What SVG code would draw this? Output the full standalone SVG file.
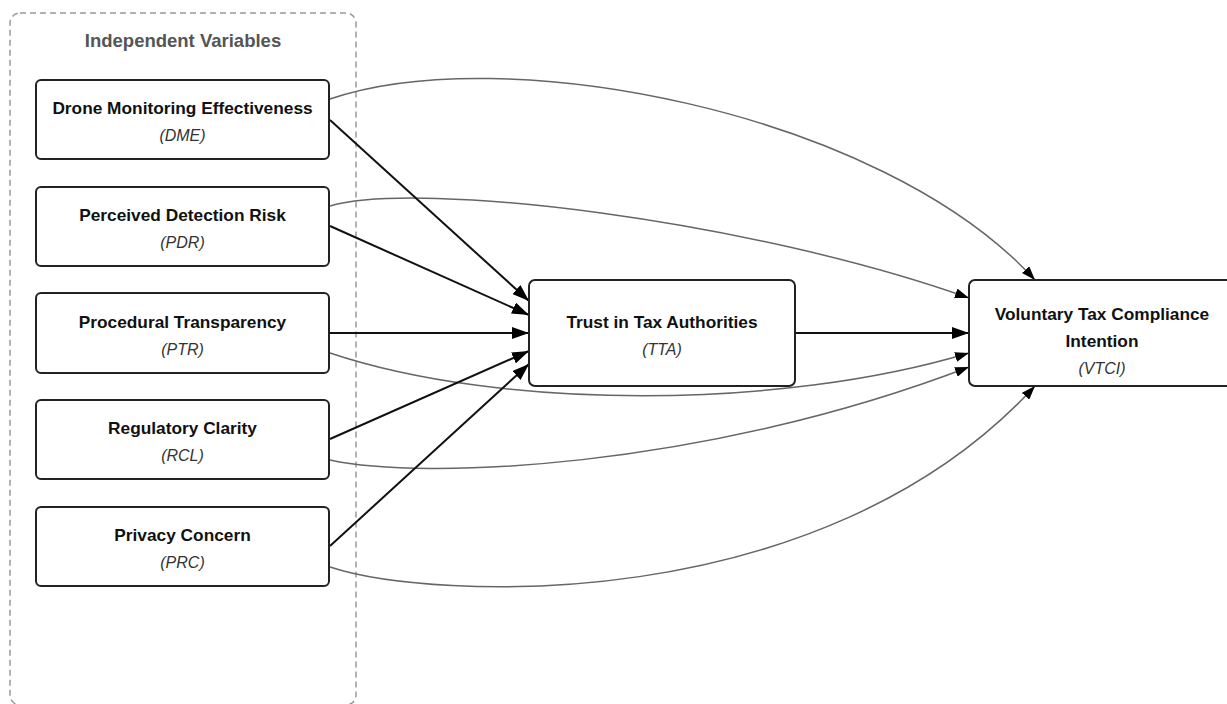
<svg xmlns="http://www.w3.org/2000/svg" width="1227" height="704" viewBox="0 0 1227 704">
<style>
.node rect{fill:#fff;stroke:#222;stroke-width:2}
.t{font-family:"Liberation Sans",Arial,sans-serif;font-size:17.3px;font-weight:bold;fill:#111;text-anchor:middle}
.s{font-family:"Liberation Sans",Arial,sans-serif;font-size:16px;font-style:italic;fill:#333;text-anchor:middle}
.g{font-family:"Liberation Sans",Arial,sans-serif;font-size:18.5px;font-weight:bold;fill:#555;text-anchor:middle}
.thick{fill:none;stroke:#111;stroke-width:2;marker-end:url(#ah)}
.thin{fill:none;stroke:#666;stroke-width:1.5;marker-end:url(#ahs)}
</style>
<defs>
<marker id="ah" viewBox="0 0 17 12" refX="17" refY="6" markerWidth="17" markerHeight="12" orient="auto" markerUnits="userSpaceOnUse"><path d="M0,0 L17,6 L0,12 z" fill="#000"/></marker>
<marker id="ahs" viewBox="0 0 14 10" refX="14" refY="5" markerWidth="14" markerHeight="10" orient="auto" markerUnits="userSpaceOnUse"><path d="M0,0 L14,5 L0,10 z" fill="#000"/></marker>
</defs>
<rect width="1227" height="704" fill="#fff"/>
<g id="group-iv">
<rect x="10" y="13" width="346" height="692" rx="10" fill="none" stroke="#999" stroke-width="1.5" stroke-dasharray="6,4"/>
<text class="g" x="183" y="47">Independent Variables</text>
</g>
<g id="connectors">
<path class="thin" d="M330,99 C500,40 880,110 1035,280"/>
<path class="thin" d="M330,206 C420,180 750,220 969,298"/>
<path class="thin" d="M330,353 C500,410 780,410 969,353"/>
<path class="thin" d="M330,460 C420,480 700,470 969,367"/>
<path class="thin" d="M330,567 C430,600 820,620 1035,386"/>
<path class="thick" d="M330,120 L529,301"/>
<path class="thick" d="M330,226 L529,315"/>
<path class="thick" d="M330,333 L529,333"/>
<path class="thick" d="M330,439 L529,351"/>
<path class="thick" d="M330,546 L529,364"/>
<path class="thick" d="M795,333 L969,333"/>
</g>
<g id="DME" class="node"><rect x="36" y="80" width="293" height="79" rx="5"/><text class="t" x="182.5" y="114">Drone Monitoring Effectiveness</text><text class="s" x="182.5" y="141">(DME)</text></g>
<g id="PDR" class="node"><rect x="36" y="187" width="293" height="79" rx="5"/><text class="t" x="182.5" y="221">Perceived Detection Risk</text><text class="s" x="182.5" y="248">(PDR)</text></g>
<g id="PTR" class="node"><rect x="36" y="293" width="293" height="80" rx="5"/><text class="t" x="182.5" y="328">Procedural Transparency</text><text class="s" x="182.5" y="355">(PTR)</text></g>
<g id="RCL" class="node"><rect x="36" y="400" width="293" height="79" rx="5"/><text class="t" x="182.5" y="434">Regulatory Clarity</text><text class="s" x="182.5" y="461">(RCL)</text></g>
<g id="PRC" class="node"><rect x="36" y="507" width="293" height="79" rx="5"/><text class="t" x="182.5" y="541">Privacy Concern</text><text class="s" x="182.5" y="568">(PRC)</text></g>
<g id="TTA" class="node"><rect x="529" y="280" width="266" height="106" rx="6"/><text class="t" x="662" y="328">Trust in Tax Authorities</text><text class="s" x="662" y="355">(TTA)</text></g>
<g id="VTCI" class="node"><rect x="969" y="280" width="266" height="106" rx="6"/><text class="t" x="1102" y="320">Voluntary Tax Compliance</text><text class="t" x="1102" y="347">Intention</text><text class="s" x="1102" y="374">(VTCI)</text></g>
</svg>
